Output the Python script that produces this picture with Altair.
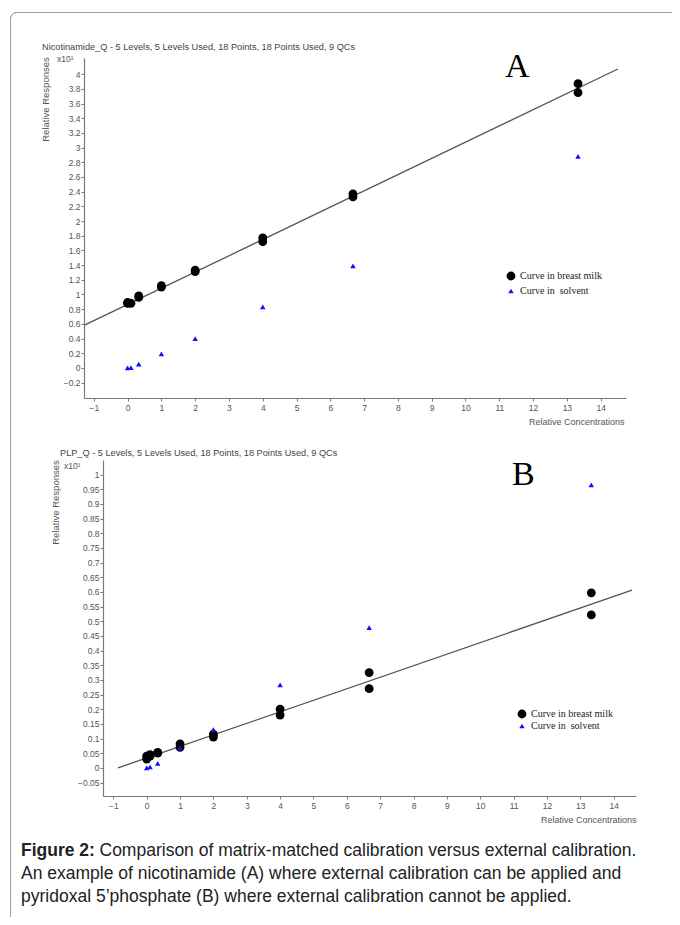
import altair as alt
import pandas as pd

# ---------------- data ----------------
series_names = ["Curve in breast milk", "Curve in\u00a0 solvent"]

# Panel A: nicotinamide
a_milk_x = [0, 0, 0.1, 0.33, 0.33, 1, 1, 2, 2, 4, 4, 6.67, 6.67, 13.33, 13.33]
a_milk_y = [0.88, 0.89, 0.88, 0.96, 0.98, 1.10, 1.12, 1.31, 1.33, 1.72, 1.77, 2.33, 2.37, 3.75, 3.87]
a_solv_x = [0, 0.1, 0.33, 1, 2, 4, 6.67, 13.33]
a_solv_y = [0.0, 0.005, 0.05, 0.19, 0.40, 0.83, 1.39, 2.88]
a_fit_x = [-1.26, 14.51]
a_fit_y = [0.585, 4.07]

# Panel B: pyridoxal 5'phosphate
b_milk_x = [0, 0, 0.1, 0.1, 0.33, 0.33, 1, 1, 2, 2, 4, 4, 6.67, 6.67, 13.33, 13.33]
b_milk_y = [0.03, 0.04, 0.04, 0.045, 0.05, 0.053, 0.07, 0.082, 0.105, 0.115, 0.18, 0.20, 0.27, 0.325, 0.522, 0.597]
b_solv_x = [0, 0.1, 0.33, 1, 2, 4, 6.67, 13.33]
b_solv_y = [0.0, 0.003, 0.015, 0.068, 0.13, 0.283, 0.478, 0.965]
b_fit_x = [-0.86, 14.55]
b_fit_y = [0.0, 0.606]

# tick values
x_ticks = [-1, 0, 1, 2, 3, 4, 5, 6, 7, 8, 9, 10, 11, 12, 13, 14]
a_y_ticks = [-0.2, 0, 0.2, 0.4, 0.6, 0.8, 1, 1.2, 1.4, 1.6, 1.8, 2, 2.2, 2.4, 2.6, 2.8,
             3, 3.2, 3.4, 3.6, 3.8, 4]
b_y_ticks = [-0.05, 0, 0.05, 0.1, 0.15, 0.2, 0.25, 0.3, 0.35, 0.4, 0.45, 0.5, 0.55, 0.6,
             0.65, 0.7, 0.75, 0.8, 0.85, 0.9, 0.95, 1]

title_a = "Nicotinamide_Q - 5 Levels, 5 Levels Used, 18 Points, 18 Points Used, 9 QCs"
title_b = "PLP_Q - 5 Levels, 5 Levels Used, 18 Points, 18 Points Used, 9 QCs"
caption_bold = "Figure 2:"
caption_lines = [
    "Comparison of matrix-matched calibration versus external calibration.",
    "An example of nicotinamide (A) where external calibration can be applied and",
    "pyridoxal 5\u2019phosphate (B) where external calibration cannot be applied.",
]

# ---------------- tables ----------------
def points_df(mx, my, sx, sy):
    return pd.DataFrame({
        "conc": list(mx) + list(sx),
        "resp": list(my) + list(sy),
        "series": [series_names[0]] * len(mx) + [series_names[1]] * len(sx),
    })

a_pts = points_df(a_milk_x, a_milk_y, a_solv_x, a_solv_y)
b_pts = points_df(b_milk_x, b_milk_y, b_solv_x, b_solv_y)
a_fit = pd.DataFrame({"conc": a_fit_x, "resp": a_fit_y})
b_fit = pd.DataFrame({"conc": b_fit_x, "resp": b_fit_y})
one = pd.DataFrame({"k": [0]})

SANS = "Liberation Sans"
SERIF = "Liberation Serif"
AX_COL = "#7a7a7a"
LAB_COL = "#555555"
FRAME_COL = "#a0a0a0"

H = 909
W = 664


def axis_x(offset, title_x):
    return alt.Axis(orient="bottom", offset=offset, values=x_ticks, format="~g",
                    grid=False, tickSize=3, labelPadding=2, labelFontSize=8.5,
                    labelFont=SANS, labelColor=LAB_COL, labelFlush=False,
                    labelOverlap=False, domainColor=AX_COL, tickColor=AX_COL,
                    domainWidth=1.2, title="Relative Concentrations",
                    titleFont=SANS, titleFontSize=9, titleFontWeight="normal",
                    titleColor=LAB_COL, titleX=title_x, titleY=26, titleAngle=0,
                    titleAlign="right", titleBaseline="alphabetic")


def axis_y(offset, values, title_x, title_y):
    return alt.Axis(orient="left", offset=offset, values=values, format="~g",
                    grid=False, tickSize=3, labelPadding=1, labelFontSize=8.5,
                    labelFont=SANS, labelColor=LAB_COL, labelOverlap=False,
                    domainColor=AX_COL, tickColor=AX_COL, domainWidth=1.2,
                    title="Relative Responses", titleFont=SANS, titleFontSize=9.5,
                    titleFontWeight="normal", titleColor=LAB_COL, titleX=title_x,
                    titleY=title_y, titleAngle=270, titleAlign="center",
                    titleBaseline="middle")


def legend(lx, ly, row_pad):
    return alt.Legend(title=None, orient="none", legendX=lx, legendY=ly, padding=0,
                      labelFont=SERIF, labelFontSize=10, labelColor="#222222",
                      rowPadding=row_pad, labelOffset=4, symbolStrokeWidth=0)


def panel(pts, fit, xdom, xrange, ydom, yrange, ax_x, ax_y, leg):
    xs = alt.Scale(domain=xdom, range=xrange, nice=False, zero=False)
    ys = alt.Scale(domain=ydom, range=yrange, nice=False, zero=False)
    line = alt.Chart(fit).mark_line(color="#555555", strokeWidth=1.3).encode(
        x=alt.X("conc:Q", scale=xs, axis=ax_x),
        y=alt.Y("resp:Q", scale=ys, axis=ax_y),
    )
    dots = alt.Chart(pts).mark_point(filled=True, opacity=1, strokeWidth=0).encode(
        x=alt.X("conc:Q", scale=xs, axis=ax_x),
        y=alt.Y("resp:Q", scale=ys, axis=ax_y),
        color=alt.Color("series:N", scale=alt.Scale(domain=series_names,
                                                    range=["#000000", "#1010ff"]),
                        legend=leg),
        shape=alt.Shape("series:N", scale=alt.Scale(domain=series_names,
                                                    range=["circle", "triangle-up"]),
                        legend=leg),
        size=alt.Size("series:N", scale=alt.Scale(domain=series_names, range=[78, 30]),
                      legend=leg),
    )
    return alt.layer(line, dots)


panel_a = panel(a_pts, a_fit, [-1.29, 14.75], [76, 618], [-0.41, 4.22], [390, 50],
                axis_x(390 - H, 616), axis_y(-76, a_y_ticks, -39, 91),
                legend(498, 263, 5))
panel_b = panel(b_pts, b_fit, [-1.31, 14.67], [95, 628], [-0.096, 1.05], [788, 452],
                axis_x(788 - H, 628), axis_y(-95, b_y_ticks, -48, 494),
                legend(509, 701, 2))


def label(text, x, y, size, font=SANS, color="#444444", weight="normal"):
    return alt.Chart(one).mark_text(align="left", baseline="alphabetic", font=font,
                                    fontSize=size, color=color, fontWeight=weight).encode(
        x=alt.value(x), y=alt.value(y), text=alt.value(text))


# figure frame: top edge, left edge and a rounded top-left corner
frame_top = alt.Chart(one).mark_rule(color=FRAME_COL, strokeWidth=1).encode(
    x=alt.value(9), x2=alt.value(900), y=alt.value(4.5))
frame_left = alt.Chart(one).mark_rule(color=FRAME_COL, strokeWidth=1).encode(
    x=alt.value(2.5), y=alt.value(11), y2=alt.value(1200))
frame_corner = alt.Chart(one).mark_arc(radius=6.5, radius2=6.5, theta=4.712389,
                                       theta2=6.283185, fillOpacity=0,
                                       stroke=FRAME_COL, strokeWidth=1).encode(
    x=alt.value(9), y=alt.value(11))

texts = [
    label(title_a, 34, 42, 9.2),
    label(title_b, 52, 448, 9.2),
    label("x10\u00b9", 49, 54, 8.5, color=LAB_COL),
    label("x10\u00b9", 56, 461, 8.5, color=LAB_COL),
    label("A", 497, 69, 34, font=SERIF, color="#000000"),
    label("B", 504, 477, 34, font=SERIF, color="#000000"),
    label(caption_bold, 13, 848, 17.5, color="#222222", weight="bold"),
    label(caption_lines[0], 91.5, 848, 17.5, color="#222222"),
    label(caption_lines[1], 13, 871, 17.5, color="#222222"),
    label(caption_lines[2], 13, 894, 17.5, color="#222222"),
]

chart = alt.layer(frame_top, frame_left, frame_corner, *texts, panel_a, panel_b).resolve_scale(
    x="independent", y="independent", color="independent",
    shape="independent", size="independent",
).resolve_legend(color="independent", shape="independent", size="independent").properties(
    width=W, height=H, padding=0, autosize=alt.AutoSizeParams(type="none"),
    background="#ffffff",
).configure_view(strokeWidth=0)

chart.save("out.html", embed_options={"renderer": "svg", "actions": False})
